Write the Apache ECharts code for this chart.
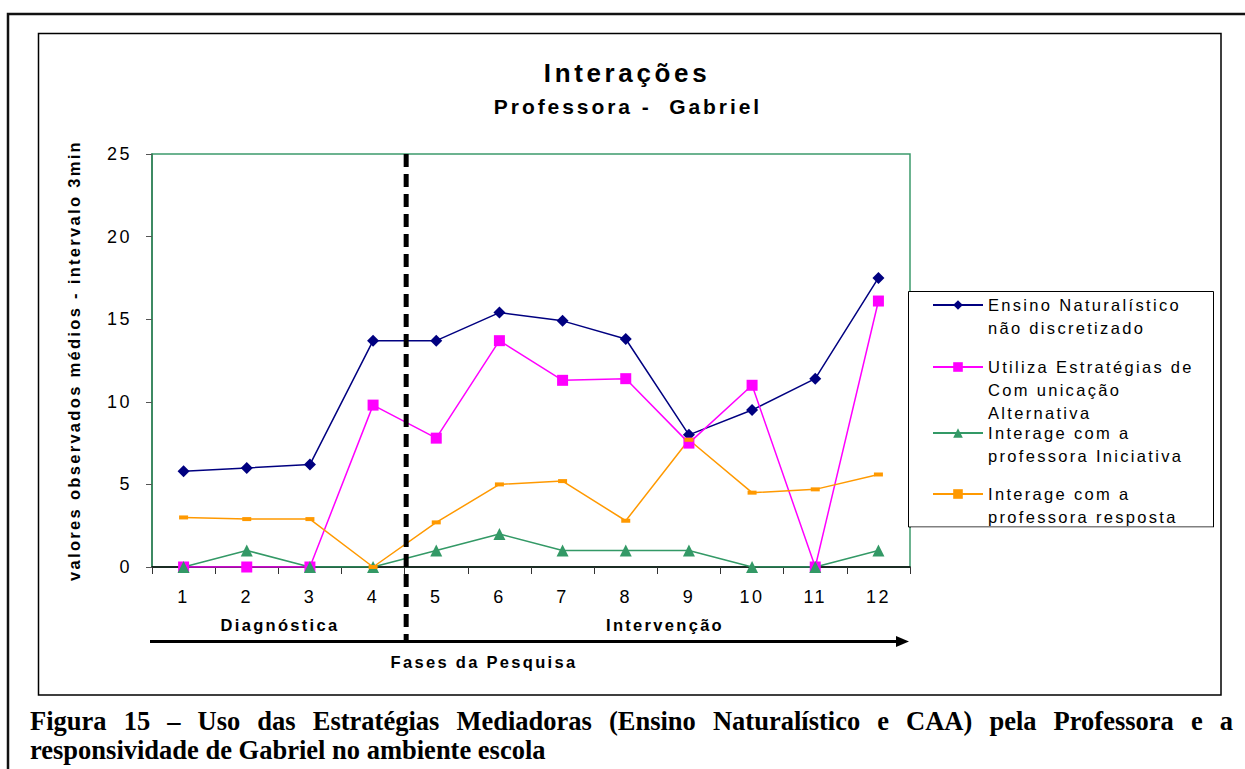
<!DOCTYPE html>
<html>
<head>
<meta charset="utf-8">
<script src="https://cdn.jsdelivr.net/npm/echarts@6/dist/echarts.min.js"></script>
<style>
  html, body { margin: 0; padding: 0; background: #fff; }
  #chart { position: absolute; left: 0; top: 0; width: 1245px; height: 769px; }
  /* the original export has wide letter spacing everywhere */
  #chart svg text { letter-spacing: 0.14em; }
  .caption {
    position: absolute; left: 30px; width: 1203px;
    font-family: "Liberation Serif", "Times New Roman", serif;
    font-weight: bold; font-size: 26.5px; line-height: 29px; color: #000;
    white-space: nowrap;
  }
  #cap1 { top: 707px; text-align: justify; text-align-last: justify; }
  #cap2 { top: 736px; }
</style>
</head>
<body>
<div id="chart"></div>
<div class="caption" id="cap1">Figura 15 – Uso das Estratégias Mediadoras (Ensino Naturalístico e CAA) pela Professora e a</div>
<div class="caption" id="cap2">responsividade de Gabriel no ambiente escola</div>
<script>
// sessões observadas
const sessions = ["1", "2", "3", "4", "5", "6", "7", "8", "9", "10", "11", "12"];

// valores médios por intervalo de 3min
const ensinoNaturalistico = [5.8, 6.0, 6.2, 13.7, 13.7, 15.4, 14.9, 13.8, 8.0, 9.5, 11.4, 17.5];
const estrategiasCAA = [0, 0, 0, 9.8, 7.8, 13.7, 11.3, 11.4, 7.5, 11.0, 0, 16.1];
const interageIniciativa = [0, 1, 0, 0, 1, 2, 1, 1, 1, 0, 0, 1];
const interageResposta = [3.0, 2.9, 2.9, 0, 2.7, 5.0, 5.2, 2.8, 7.7, 4.5, 4.7, 5.6];

// eixo y
const yMin = 0;
const yMax = 25;
const yStep = 5;

const seriesNames = [
  "Ensino Naturalístico não discretizado",
  "Utiliza Estratégias de Comunicação Alternativa",
  "Interage com a professora Iniciativa",
  "Interage com a professora resposta"
];
const legendLines = [
  ["Ensino Naturalístico", "não discretizado"],
  ["Utiliza Estratégias de", "Com unicação", "Alternativa"],
  ["Interage com a", "professora Iniciativa"],
  ["Interage com a", "professora resposta"]
];

const FONT = '"Liberation Sans", Arial, Helvetica, sans-serif';
const LINE_H = 23;

function lineSeries(name, data, color, symbol, size) {
  return {
    name: name,
    type: "line",
    data: data,
    symbol: symbol,
    symbolSize: size,
    showSymbol: true,
    lineStyle: { color: color, width: 1.5 },
    itemStyle: { color: color },
    emphasis: { disabled: true },
    animation: false
  };
}

const series = [
  lineSeries(seriesNames[0], ensinoNaturalistico, "#000080", "diamond", 12),
  lineSeries(seriesNames[1], estrategiasCAA, "#ff00ff", "rect", 11),
  lineSeries(seriesNames[2], interageIniciativa, "#339966", "triangle", 12),
  lineSeries(seriesNames[3], interageResposta, "#ff9900", "rect", [9, 4])
];

// icon centre of every legend entry, text block centred on the first line
const legendIconY = [305, 367, 433, 494];
const legends = seriesNames.map((name, i) => {
  const lines = legendLines[i];
  const padded = new Array(lines.length - 1).fill("").concat(lines);
  return {
    data: [name],
    orient: "vertical",
    left: 932,
    top: legendIconY[i] - (padded.length * LINE_H) / 2,
    padding: 0,
    itemWidth: 50,
    itemHeight: 12,
    selectedMode: false,
    z: 6,
    textStyle: { fontFamily: FONT, fontSize: 16.5, lineHeight: LINE_H, color: "#000" },
    formatter: () => padded.join("\n")
  };
});

const chart = echarts.init(document.getElementById("chart"), null, { renderer: "svg" });

const option = {
  backgroundColor: "#fff",
  animation: false,
  legend: legends,
  grid: {
    left: 152, top: 154, right: 335, bottom: 202,
    show: true, borderColor: "#3c9a6c", borderWidth: 1.5, backgroundColor: "transparent"
  },
  xAxis: {
    type: "category",
    data: sessions,
    boundaryGap: true,
    axisLine: { lineStyle: { color: "#000", width: 1.5 } },
    axisTick: { show: true, length: 7, interval: 0, lineStyle: { color: "#333" } },
    axisLabel: { interval: 0, margin: 21, fontFamily: FONT, fontSize: 18, color: "#000" },
    splitLine: { show: false }
  },
  yAxis: {
    type: "value",
    min: yMin, max: yMax, interval: yStep,
    name: "valores observados médios - intervalo 3min",
    nameLocation: "middle",
    nameRotate: 90,
    nameGap: 70,
    nameTextStyle: { fontFamily: FONT, fontSize: 16.5, fontWeight: "bold", color: "#000" },
    axisLine: { show: true, lineStyle: { color: "#2f7d55", width: 1.5 } },
    axisTick: { show: true, length: 6, lineStyle: { color: "#555" } },
    axisLabel: { margin: 20, fontFamily: FONT, fontSize: 18, color: "#000" },
    splitLine: { show: false }
  },
  series: series
};

chart.setOption(option);

// phase divider between session 4 and 5
const x4 = chart.convertToPixel({ xAxisIndex: 0 }, sessions[3]);
const x5 = chart.convertToPixel({ xAxisIndex: 0 }, sessions[4]);
const divX = (x4 + x5) / 2 + 1.5;

chart.setOption({
  graphic: [
    // outer page frame
    { type: "polyline", z: 1, silent: true,
      shape: { points: [[8, 769], [8, 14], [1245, 14]] },
      style: { stroke: "#111", lineWidth: 2.5, fill: null } },
    // chart area frame
    { type: "rect", z: 1, silent: true,
      shape: { x: 38.5, y: 33.5, width: 1182.5, height: 661.5 },
      style: { stroke: "#000", lineWidth: 1.5, fill: null } },
    // titles
    { type: "text", z: 5, silent: true,
      style: { text: "Interações", x: 627, y: 73, textAlign: "center", textVerticalAlign: "middle",
               font: "bold 26px " + FONT, fill: "#000" } },
    { type: "text", z: 5, silent: true,
      style: { text: "Professora -  Gabriel", x: 628, y: 106, textAlign: "center", textVerticalAlign: "middle",
               font: "bold 21px " + FONT, fill: "#000" } },
    // legend box
    { type: "rect", z: 3, silent: true,
      shape: { x: 908.5, y: 291.5, width: 305, height: 235.5 },
      style: { stroke: "#000", lineWidth: 1, fill: "#fff" } },
    { type: "rect", z: 20, silent: true,
      shape: { x: 911, y: 527.6, width: 302, height: 10 },
      style: { fill: "#fff", stroke: null } },
    // dashed divider
    { type: "line", z: 8, silent: true,
      shape: { x1: divX, y1: 154, x2: divX, y2: 641 },
      style: { stroke: "#000", lineWidth: 5, lineDash: [13, 7] } },
    // phases arrow
    { type: "line", z: 5, silent: true,
      shape: { x1: 150, y1: 641.5, x2: 898, y2: 641.5 },
      style: { stroke: "#000", lineWidth: 3 } },
    { type: "polygon", z: 5, silent: true,
      shape: { points: [[896, 636], [909, 641.5], [896, 647]] },
      style: { fill: "#000" } },
    { type: "text", z: 5, silent: true,
      style: { text: "Diagnóstica", x: 280, y: 625, textAlign: "center", textVerticalAlign: "middle",
               font: "bold 16.5px " + FONT, fill: "#000" } },
    { type: "text", z: 5, silent: true,
      style: { text: "Intervenção", x: 665, y: 625, textAlign: "center", textVerticalAlign: "middle",
               font: "bold 16.5px " + FONT, fill: "#000" } },
    { type: "text", z: 5, silent: true,
      style: { text: "Fases da Pesquisa", x: 484, y: 662, textAlign: "center", textVerticalAlign: "middle",
               font: "bold 16.5px " + FONT, fill: "#000" } }
  ]
});
</script>
</body>
</html>
